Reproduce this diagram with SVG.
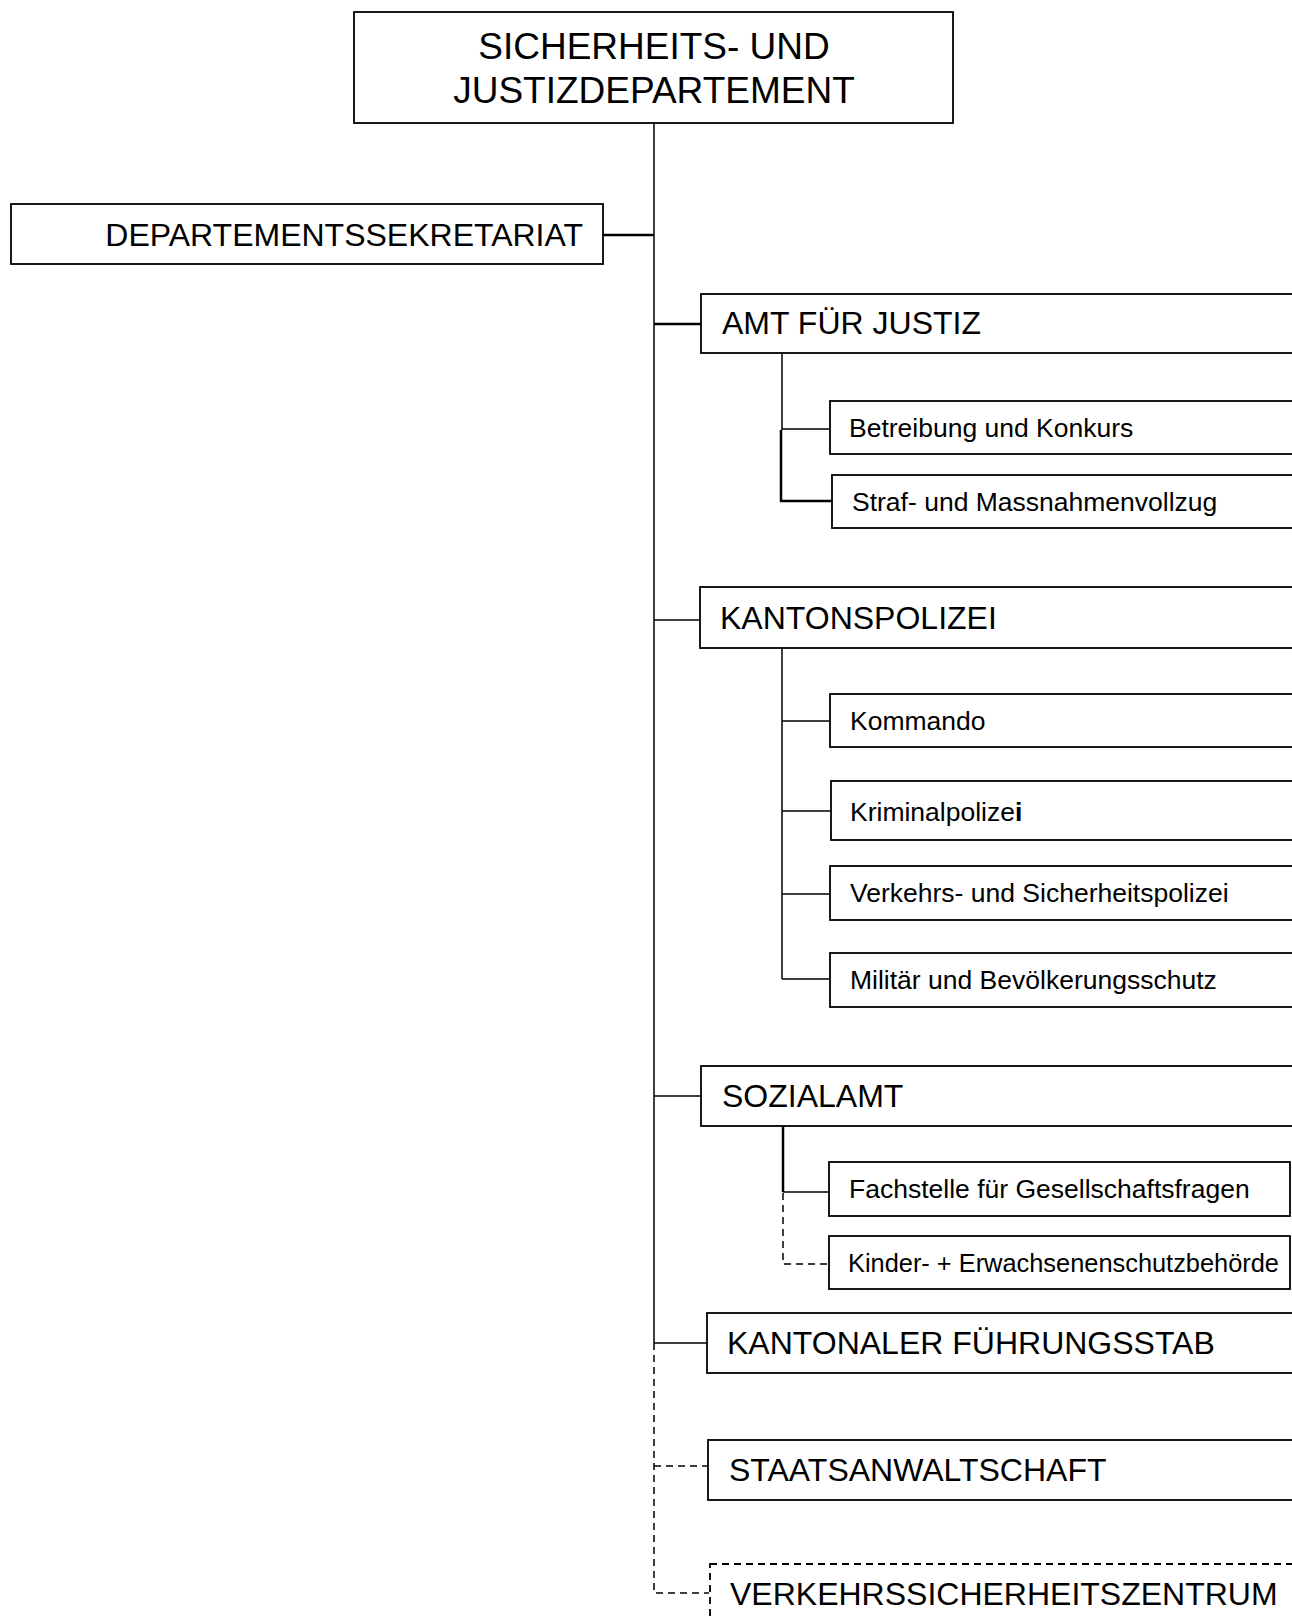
<svg xmlns="http://www.w3.org/2000/svg" width="1292" height="1620" viewBox="0 0 1292 1620">
<style>
  .box { fill: #ffffff; stroke: #000000; stroke-width: 1.8; }
  .dbox { fill: #ffffff; stroke: #000000; stroke-width: 1.8; stroke-dasharray: 7 5; }
  .ln { fill: none; stroke: #000000; stroke-width: 1.5; }
  .lnb { fill: none; stroke: #000000; stroke-width: 2.5; }
  .dl { fill: none; stroke: #000000; stroke-width: 1.5; stroke-dasharray: 7 5; }
  text { font-family: "Liberation Sans", Arial, Helvetica, sans-serif; fill: #000000; }
  .t1 { font-size: 37px; text-anchor: middle; }
  .t2 { font-size: 32px; }
  .t3 { font-size: 26.5px; }
</style>
<rect width="1292" height="1620" fill="#ffffff"/>
<g id="connectors">
  <line class="ln" x1="654" y1="123" x2="654" y2="1343"/>
  <path class="dl" d="M654 1343 V1593 H709"/>
  <line class="dl" x1="654" y1="1466" x2="708" y2="1466"/>
  <line class="lnb" x1="603" y1="235" x2="654" y2="235"/>
  <line class="lnb" x1="654" y1="324" x2="701" y2="324"/>
  <line class="ln" x1="654" y1="620" x2="700" y2="620"/>
  <line class="ln" x1="654" y1="1096" x2="701" y2="1096"/>
  <line class="ln" x1="654" y1="1343" x2="707" y2="1343"/>
  <line class="ln" x1="782" y1="353" x2="782" y2="430"/>
  <line class="ln" x1="782" y1="429" x2="830" y2="429"/>
  <path class="lnb" d="M781 430 V501 H832"/>
  <line class="ln" x1="782" y1="648" x2="782" y2="979"/>
  <line class="ln" x1="782" y1="721" x2="830" y2="721"/>
  <line class="ln" x1="782" y1="811" x2="831" y2="811"/>
  <line class="ln" x1="782" y1="894" x2="830" y2="894"/>
  <line class="ln" x1="782" y1="979" x2="830" y2="979"/>
  <line class="lnb" x1="783" y1="1126" x2="783" y2="1192"/>
  <line class="ln" x1="783" y1="1192" x2="829" y2="1192"/>
  <path class="dl" d="M783 1193 V1264 H829"/>
</g>
<g id="node-sjd">
  <rect class="box" x="354" y="12" width="599" height="111"/>
  <text class="t1" x="654" y="59">SICHERHEITS- UND</text>
  <text class="t1" x="654" y="103">JUSTIZDEPARTEMENT</text>
</g>
<g id="node-dept-sekretariat">
  <rect class="box" x="11" y="204" width="592" height="60"/>
  <text class="t2" x="583" y="246" text-anchor="end">DEPARTEMENTSSEKRETARIAT</text>
</g>
<g id="node-amt-justiz">
  <rect class="box" x="701" y="294" width="600" height="59"/>
  <text class="t2" x="722" y="334">AMT FÜR JUSTIZ</text>
</g>
<g id="node-betreibung">
  <rect class="box" x="830" y="401" width="470" height="53"/>
  <text class="t3" x="849" y="437">Betreibung und Konkurs</text>
</g>
<g id="node-strafvollzug">
  <rect class="box" x="832" y="475" width="470" height="53"/>
  <text class="t3" x="852" y="511">Straf- und Massnahmenvollzug</text>
</g>
<g id="node-kantonspolizei">
  <rect class="box" x="700" y="587" width="600" height="61"/>
  <text class="t2" x="720" y="629">KANTONSPOLIZEI</text>
</g>
<g id="node-kommando">
  <rect class="box" x="830" y="694" width="470" height="53"/>
  <text class="t3" x="850" y="730">Kommando</text>
</g>
<g id="node-kriminalpolizei">
  <rect class="box" x="831" y="781" width="470" height="59"/>
  <text class="t3" x="850" y="821">Kriminalpolize<tspan font-weight="bold">i</tspan></text>
</g>
<g id="node-verkehrspolizei">
  <rect class="box" x="830" y="866" width="470" height="54"/>
  <text class="t3" x="850" y="902">Verkehrs- und Sicherheitspolizei</text>
</g>
<g id="node-militaer">
  <rect class="box" x="830" y="953" width="470" height="54"/>
  <text class="t3" x="850" y="989">Militär und Bevölkerungsschutz</text>
</g>
<g id="node-sozialamt">
  <rect class="box" x="701" y="1066" width="600" height="60"/>
  <text class="t2" x="722" y="1107">SOZIALAMT</text>
</g>
<g id="node-fachstelle">
  <rect class="box" x="829" y="1162" width="461" height="54"/>
  <text class="t3" x="849" y="1198">Fachstelle für Gesellschaftsfragen</text>
</g>
<g id="node-kesb">
  <rect class="box" x="829" y="1236" width="461" height="53"/>
  <text class="t3" x="848" y="1272" textLength="431" lengthAdjust="spacingAndGlyphs">Kinder- + Erwachsenenschutzbehörde</text>
</g>
<g id="node-fuehrungsstab">
  <rect class="box" x="707" y="1313" width="600" height="60"/>
  <text class="t2" x="727" y="1354">KANTONALER FÜHRUNGSSTAB</text>
</g>
<g id="node-staatsanwaltschaft">
  <rect class="box" x="708" y="1440" width="600" height="60"/>
  <text class="t2" x="729" y="1481">STAATSANWALTSCHAFT</text>
</g>
<g id="node-vsz">
  <rect class="dbox" x="710" y="1564" width="600" height="80"/>
  <text class="t2" x="730" y="1605">VERKEHRSSICHERHEITSZENTRUM</text>
</g>
</svg>
